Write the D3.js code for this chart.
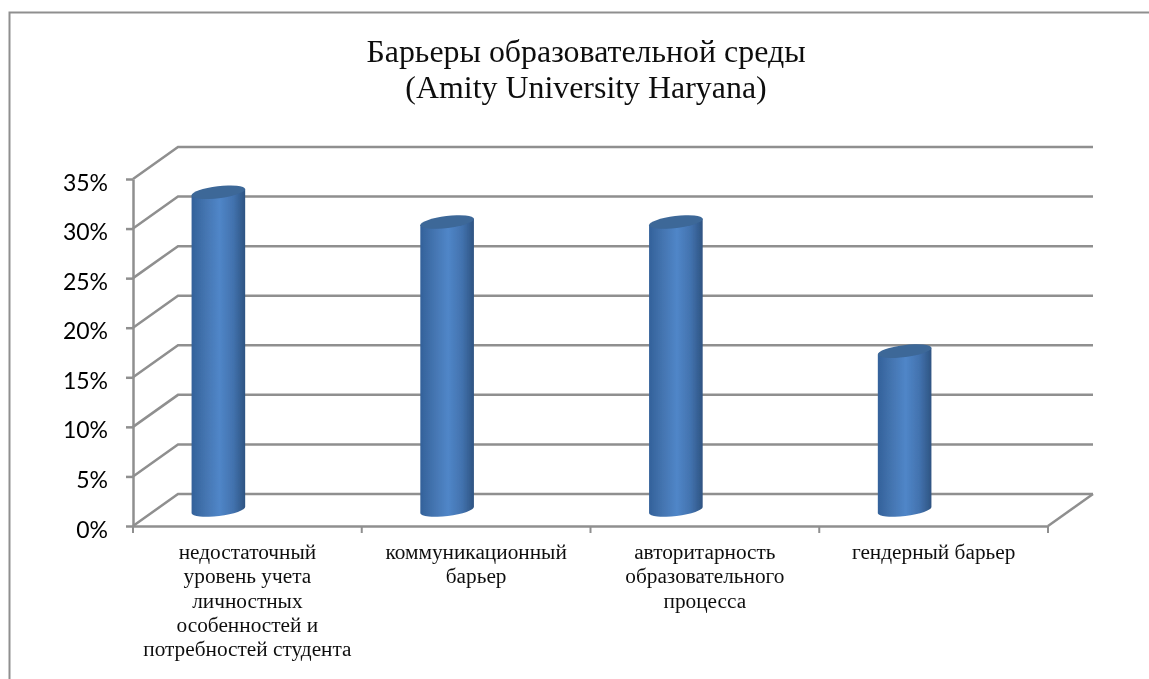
<!DOCTYPE html>
<html>
<head>
<meta charset="utf-8">
<script src="https://cdn.jsdelivr.net/npm/d3@7"></script>
<style>
html, body { margin: 0; padding: 0; background: #fff; }
svg { display: block; }
</style>
</head>
<body>
<div id="chart"></div>
<script>
const categories = [
    "недостаточный уровень учета личностных особенностей и потребностей студента",
    "коммуникационный барьер",
    "авторитарность образовательного процесса",
    "гендерный барьер"
];
// label lines as wrapped in the picture
const categoryLines = [
    ["недостаточный", "уровень учета", "личностных", "особенностей и", "потребностей студента"],
    ["коммуникационный", "барьер"],
    ["авторитарность", "образовательного", "процесса"],
    ["гендерный барьер"]
];
const values = [32, 29, 29, 16];
const yTicks = [0, 5, 10, 15, 20, 25, 30, 35];
const titleLines = ["Барьеры образовательной среды", "(Amity University Haryana)"];

const width = 1149;
const height = 679;
const depth = {x: 45, y: -32};
const gridColor = "#8f8f8f";

const root = d3.select("#chart").append("svg")
    .attr("width", width)
    .attr("height", height);

// the reference is a slightly soft scan
root.append("defs").append("filter")
    .attr("id", "soft")
    .attr("filterUnits", "userSpaceOnUse")
    .attr("x", 0).attr("y", 0)
    .attr("width", width).attr("height", height)
    .append("feGaussianBlur")
    .attr("stdDeviation", 0.4);

const svg = root.append("g").attr("filter", "url(#soft)");

// frame, only the top and left edges are inside the picture
svg.append("path")
    .attr("d", "M9.5," + height + "V12.5H" + width)
    .attr("fill", "none")
    .attr("stroke", gridColor)
    .attr("stroke-width", 2);

svg.append("g")
    .selectAll("text")
    .data(titleLines)
    .join("text")
    .attr("x", 586)
    .attr("y", (d, i) => 62 + i * 36)
    .attr("text-anchor", "middle")
    .attr("font-family", "'Liberation Serif'")
    .attr("font-size", "31.9px")
    .attr("fill", "#111")
    .text(d => d);

const xScale = d3.scaleBand()
    .domain(d3.range(categories.length))
    .range([133, 1048]);

const yScale = d3.scaleLinear()
    .domain([0, 35])
    .range([526, 179]);

// back wall and side wall lines
const grid = svg.append("g")
    .attr("fill", "none")
    .attr("stroke", gridColor)
    .attr("stroke-width", 2.5);

grid.selectAll("path.wall")
    .data(yTicks)
    .join("path")
    .attr("class", "wall")
    .attr("d", d => d3.line()([
        [xScale.range()[0], yScale(d)],
        [xScale.range()[0] + depth.x, yScale(d) + depth.y],
        [xScale.range()[1] + depth.x, yScale(d) + depth.y]
    ]));

// right edge of the floor
grid.append("path")
    .attr("d", d3.line()([
        [xScale.range()[1], yScale(0)],
        [xScale.range()[1] + depth.x, yScale(0) + depth.y]
    ]));

const yAxis = d3.axisLeft(yScale)
    .tickValues(yTicks)
    .tickFormat(d => d + "%")
    .tickSize(7)
    .tickPadding(18)
    .tickSizeOuter(0);

const yG = svg.append("g")
    .attr("transform", "translate(133,0)")
    .call(yAxis);
yG.selectAll("path, line").attr("stroke", gridColor).attr("stroke-width", 2.5);
yG.selectAll("text")
    .attr("dy", "11px")
    .attr("font-family", "Lato")
    .attr("font-size", "23px")
    .attr("fill", "#000");

const xAxis = d3.axisBottom(xScale)
    .tickSize(0)
    .tickFormat("");

const xG = svg.append("g")
    .attr("transform", "translate(0,526)")
    .call(xAxis);
xG.selectAll("path").attr("stroke", gridColor).attr("stroke-width", 2.5);

svg.append("g")
    .selectAll("line")
    .data(d3.range(categories.length + 1))
    .join("line")
    .attr("x1", d => 133 + d * xScale.bandwidth())
    .attr("x2", d => 133 + d * xScale.bandwidth())
    .attr("y1", 526)
    .attr("y2", 533)
    .attr("stroke", gridColor)
    .attr("stroke-width", 2);

// category labels
svg.append("g")
    .selectAll("g")
    .data(categoryLines)
    .join("g")
    .attr("transform", (d, i) => "translate(" + (xScale(i) + xScale.bandwidth() / 2) + ",0)")
    .selectAll("text")
    .data(d => d)
    .join("text")
    .attr("y", (d, i) => 559 + i * 24.3)
    .attr("text-anchor", "middle")
    .attr("font-family", "'Liberation Serif'")
    .attr("font-size", "21.3px")
    .attr("fill", "#111")
    .text(d => d);

// cylinders
const grad = root.select("defs").append("linearGradient").attr("id", "barGrad");
grad.append("stop").attr("offset", "0%").attr("stop-color", "#33619a");
grad.append("stop").attr("offset", "22%").attr("stop-color", "#4272ad");
grad.append("stop").attr("offset", "52%").attr("stop-color", "#5086c8");
grad.append("stop").attr("offset", "78%").attr("stop-color", "#4272ae");
grad.append("stop").attr("offset", "100%").attr("stop-color", "#2e5482");

const rx = 27;
const ry = 6;
const tilt = -7;
const shift = -29;      // bars sit left of the middle of the band
const baseLift = 16;    // base of the cylinder sits above the axis line
const pxPerUnit = 9.93;

function cylinderPath(d, i) {
    const cx = xScale(i) + xScale.bandwidth() / 2 + shift;
    const yBase = yScale(0) - baseLift;
    const yTop = yBase - d * pxPerUnit;
    const c = Math.cos(tilt * Math.PI / 180) * rx;
    const s = Math.sin(tilt * Math.PI / 180) * rx;
    return "M" + (cx - c) + "," + (yTop - s) +
        "L" + (cx + c) + "," + (yTop + s) +
        "L" + (cx + c) + "," + (yBase + s) +
        "A" + rx + "," + ry + " " + tilt + " 0 1 " + (cx - c) + "," + (yBase - s) + "Z";
}

const bars = svg.append("g");

bars.selectAll("path.body")
    .data(values)
    .join("path")
    .attr("class", "body")
    .attr("d", cylinderPath)
    .attr("fill", "url(#barGrad)");

bars.selectAll("ellipse.top")
    .data(values)
    .join("ellipse")
    .attr("class", "top")
    .attr("rx", rx)
    .attr("ry", ry)
    .attr("transform", (d, i) => "translate(" + (xScale(i) + xScale.bandwidth() / 2 + shift) + "," + (yScale(0) - baseLift - d * pxPerUnit) + ") rotate(" + tilt + ")")
    .attr("fill", "#3c6798");
</script>
</body>
</html>
